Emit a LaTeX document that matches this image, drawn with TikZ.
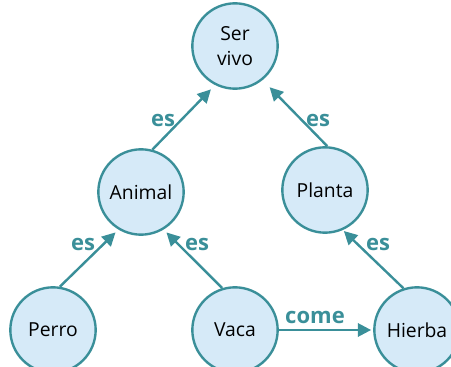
\documentclass[tikz,border=0pt]{standalone}
\usepackage{fontspec}
\setmainfont{Open Sans}
\usetikzlibrary{arrows.meta}
\definecolor{teal}{RGB}{58,143,153}
\definecolor{pale}{RGB}{214,234,248}
\tikzset{
    concept/.style={
            circle,
            draw={teal},
            fill={pale},
            line width=1.8pt,
            minimum size=64pt,
            inner sep=0pt, % text stays inside
            align=center,
            font=\fontsize{14.5}{19}\selectfont
        }
}
\tikzset{
    link/.style={
            draw={teal},
            line width=1.8pt,
            -{Triangle[length=10pt,width=10pt]},
            shorten >={#1}
        },
    link/.default={3pt}
}
\tikzset{
    linklabel/.style={
            text={teal},
            font=\bfseries\fontsize{16.5}{19}\selectfont
        }
}

\begin{document}
\begin{tikzpicture}[x=0.75pt, y=-0.75pt]
    \useasboundingbox (0,0) rectangle (451,367);
    %
    \node [concept] (ser) at (235,46) {Ser\\vivo};
    \node [concept] (animal) at (141,192) {Animal};
    \node [concept] (planta) at (325,190) {Planta};
    \node [concept] (perro) at (53,330) {Perro};
    \node [concept] (vaca) at (235,330) {Vaca};
    \node [concept] (hierba) at (417,330) {Hierba};
    %
    \draw [link=4.5pt] (animal.75) -- (ser.243);
    \draw [link=7.5pt] (planta.87) -- (ser.309);
    \draw [link] (perro.81) -- (animal.239);
    \draw [link] (vaca.107) -- (animal.301);
    \draw [link=1pt] (hierba.108) -- (planta.294);
    \draw [link=1.5pt] (vaca) -- (hierba);
    %
    \node [linklabel] (l1) at (163,120) {es};
    \node [linklabel] (l2) at (318,120) {es};
    \node [linklabel] (l3) at (83,244) {es};
    \node [linklabel] (l4) at (197,244) {es};
    \node [linklabel] (l5) at (378,244) {es};
    \node [linklabel] (l6) at (315,317) {come};
\end{tikzpicture}
\end{document}
